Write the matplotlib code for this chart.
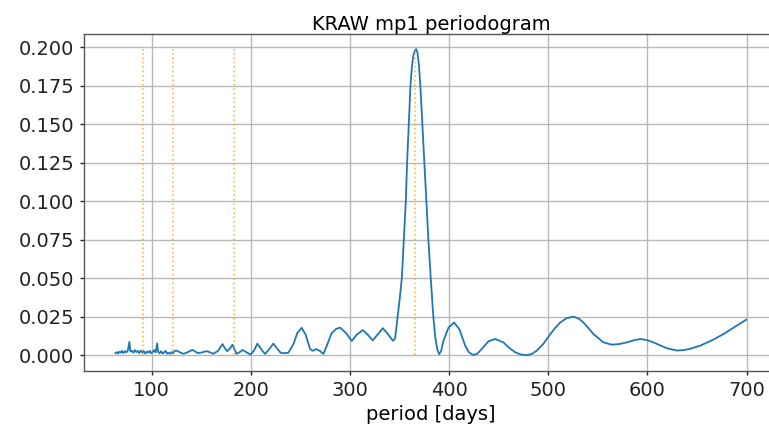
import matplotlib
matplotlib.use("Agg")
import matplotlib.pyplot as plt
import numpy as np

title = "KRAW mp1 periodogram"
xlabel = "period [days]"

period = [
    63.5, 65, 66, 67.5, 69, 70, 71.5, 73, 74.5, 76, 77.5, 78.5, 80, 81.5, 83, 84.5,
    86, 87.5, 89, 90.5, 92, 93.5, 95, 96.5, 98, 99.5, 101, 102.5, 104, 105.5, 106.5,
    108, 109.5, 111, 112.5, 114, 115.5, 117, 118.5, 120, 121.5, 123, 125, 128, 131.7,
    136, 141, 144, 146.8, 151, 155.3, 159, 162, 167, 171.4, 174, 176.1, 179, 181.5,
    185.5, 188.5, 191.6, 195.6, 199.6, 203, 206.6, 210.5, 214.3, 218.5, 222.7, 226.5,
    230.2, 234, 237.8, 242.9, 246.9, 251.3, 255.3, 259.7, 262.5, 265.8, 269.5, 273.2,
    277.2, 281.6, 286, 290, 296, 301.8, 306.8, 312.9, 317.9, 323, 327.7, 333.1, 338.8,
    343.3, 345.5, 348, 350.2, 352.3, 354.3, 356.3, 357.6, 359.3, 361, 362.5, 364,
    365.5, 366.6, 368, 369.5, 371, 373, 375, 377.1, 379.1, 381.5, 384.1, 386, 388,
    389.9, 392, 394.3, 399.3, 405, 410.4, 416.2, 420, 424.5, 428.5, 433, 439.7, 446.4,
    454.8, 460.5, 466.6, 472.5, 478.4, 483.5, 488.5, 495, 500.9, 506.5, 512, 518.5,
    525.4, 530.5, 535.5, 540.5, 545.6, 555.7, 564.2, 571.5, 579.3, 586, 592.7, 599.5,
    606.2, 613, 619.7, 629.8, 636.5, 643.2, 653.3, 665, 676.8, 688, 699.7,
]
power = [
    0.0015, 0.0022, 0.0012, 0.0025, 0.0018, 0.0030, 0.0015, 0.0028, 0.0020, 0.0035,
    0.0088, 0.0025, 0.0030, 0.0018, 0.0035, 0.0022, 0.0030, 0.0015, 0.0032, 0.0020,
    0.0028, 0.0012, 0.0025, 0.0018, 0.0030, 0.0015, 0.0022, 0.0035, 0.0020, 0.0078,
    0.0022, 0.0015, 0.0028, 0.0012, 0.0020, 0.0030, 0.0012, 0.0018, 0.0010, 0.0022,
    0.0015, 0.0028, 0.0032, 0.0022, 0.0011, 0.0020, 0.0036, 0.0025, 0.0015, 0.0020,
    0.0028, 0.0020, 0.0011, 0.0030, 0.0074, 0.0045, 0.0028, 0.0045, 0.0070, 0.0011,
    0.0020, 0.0036, 0.0021, 0.0006, 0.0030, 0.0077, 0.0040, 0.0010, 0.0040, 0.0077,
    0.0045, 0.0017, 0.0015, 0.0017, 0.0073, 0.0146, 0.0180, 0.0135, 0.0042, 0.0030,
    0.0042, 0.0030, 0.0010, 0.0073, 0.0146, 0.0172, 0.0181, 0.0146, 0.0094, 0.0135,
    0.0165, 0.0135, 0.0098, 0.0135, 0.0177, 0.0135, 0.0095, 0.0110, 0.0250, 0.0370,
    0.0500, 0.0750, 0.1000, 0.1250, 0.1500, 0.1750, 0.1880, 0.1950, 0.1980, 0.1990,
    0.1970, 0.1890, 0.1750, 0.1500, 0.1250, 0.1000, 0.0750, 0.0500, 0.0250, 0.0120,
    0.0040, 0.0008, 0.0030, 0.0096, 0.0180, 0.0214, 0.0170, 0.0064, 0.0020, 0.0003,
    0.0012, 0.0043, 0.0092, 0.0107, 0.0085, 0.0050, 0.0021, 0.0006, 0.0002, 0.0010,
    0.0032, 0.0075, 0.0128, 0.0175, 0.0214, 0.0242, 0.0252, 0.0240, 0.0214, 0.0178,
    0.0139, 0.0085, 0.0070, 0.0074, 0.0085, 0.0098, 0.0107, 0.0100, 0.0085, 0.0065,
    0.0047, 0.0032, 0.0035, 0.0043, 0.0064, 0.0098, 0.0139, 0.0185, 0.0232,
]
seasonal_periods = [365.25 / 4, 365.25 / 3, 365.25 / 2, 365.25]

fig = plt.figure(figsize=(7.69, 4.24), dpi=100)
ax = fig.add_axes([0.1092, 0.1255, 0.9022, 0.795])

ax.plot(period, power, color="#1f77b4", lw=1.3)
ax.vlines(seasonal_periods, 0, max(power), colors="orange", linestyles=":",
          lw=1.2, alpha=0.75)

ax.set_xticks([100, 200, 300, 400, 500, 600, 700])
ax.set_yticks(np.arange(0, 0.2001, 0.025))
ax.set_yticklabels([f"{v:.3f}" for v in np.arange(0, 0.2001, 0.025)])
ax.grid(True, color="#b8b8b8", lw=1.0)
ax.tick_params(labelsize=14, length=3, width=1, pad=4, colors="#222222")
for s in ax.spines.values():
    s.set_color("#555555")
    s.set_linewidth(1.0)
ax.set_title(title, fontsize=14, pad=2)
ax.set_xlabel(xlabel, fontsize=14, labelpad=4)

fig.savefig("out.png", dpi=100)
